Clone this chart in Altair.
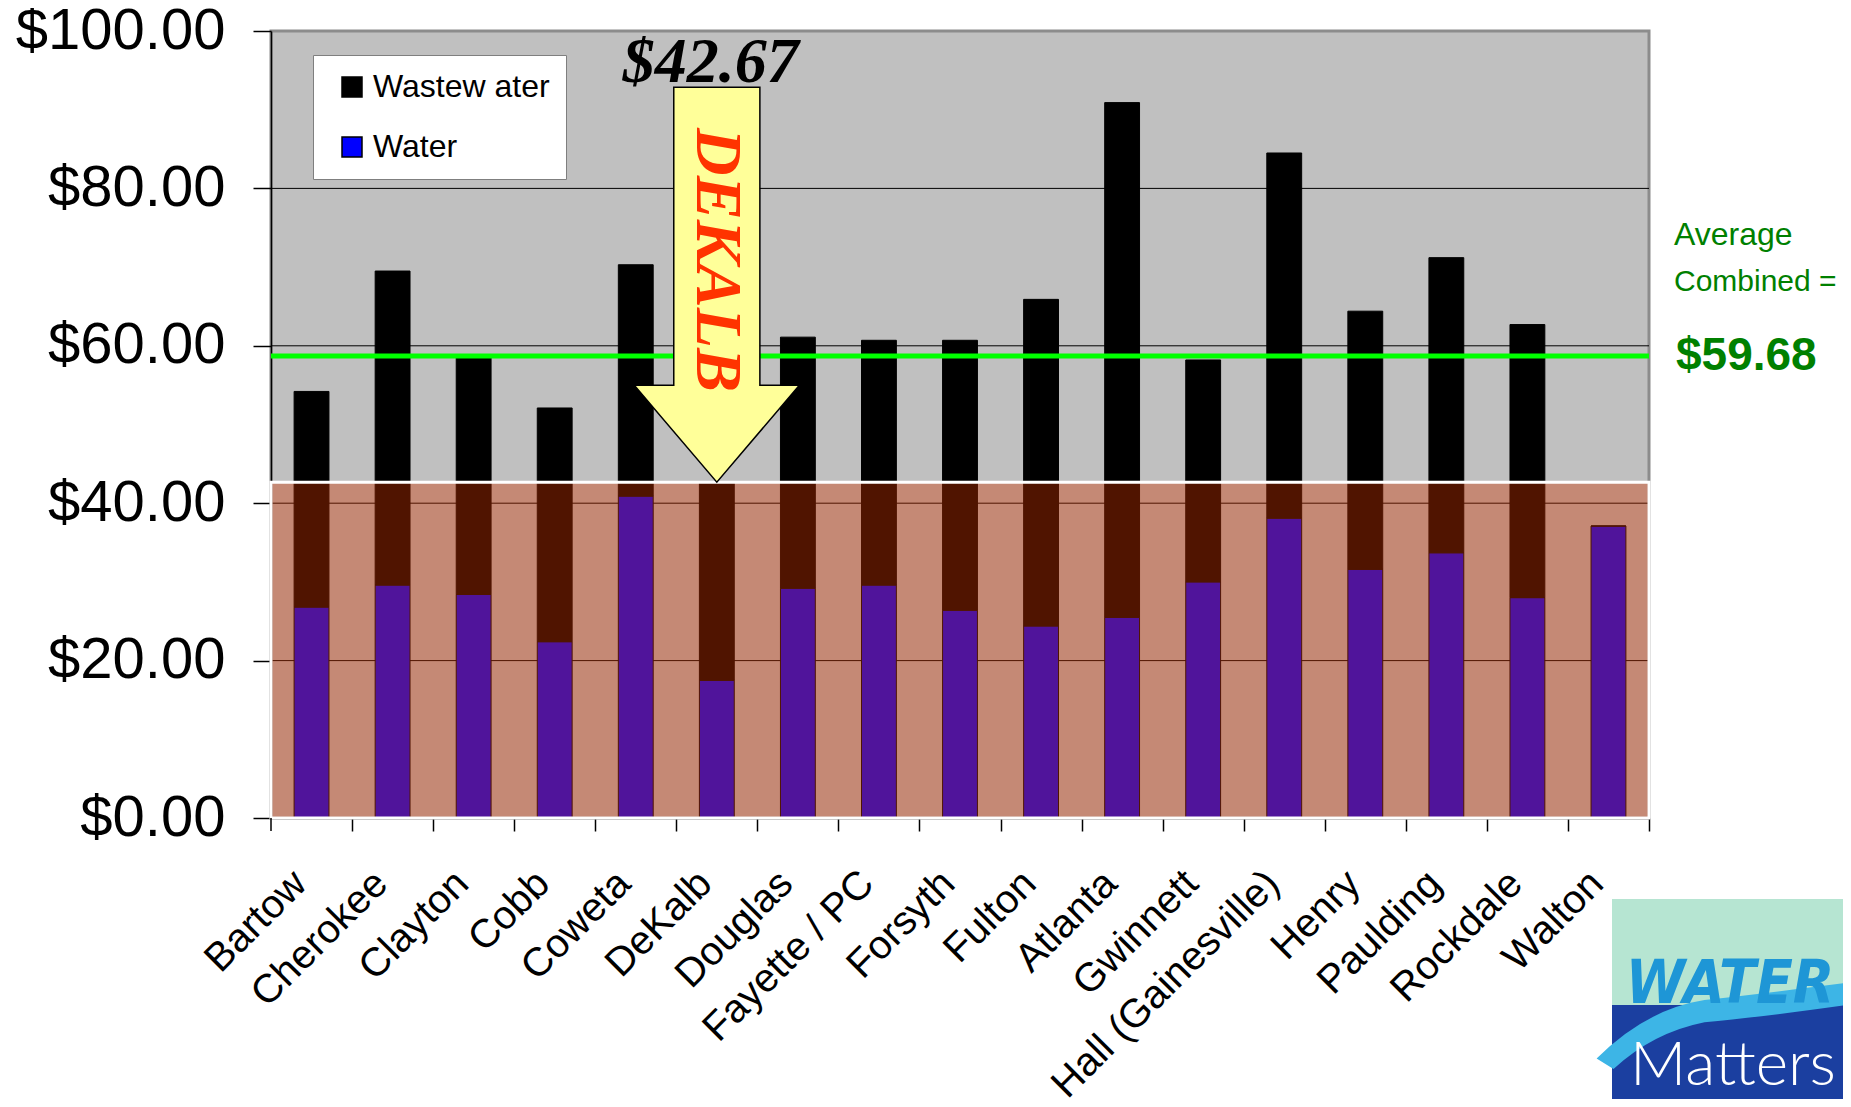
import altair as alt
import pandas as pd

# ---------------- data ----------------
counties = ["Bartow", "Cherokee", "Clayton", "Cobb", "Coweta", "DeKalb", "Douglas",
            "Fayette / PC", "Forsyth", "Fulton", "Atlanta", "Gwinnett",
            "Hall (Gainesville)", "Henry", "Paulding", "Rockdale", "Walton"]
water = [26.8, 29.6, 28.4, 22.4, 40.9, 17.5, 29.2, 29.6, 26.4, 24.4, 25.5, 30.0,
         38.1, 31.6, 33.7, 28.0, 37.1]
wastewater = [27.4, 39.9, 30.1, 29.7, 29.4, 25.17, 31.9, 31.1, 34.3, 41.5, 65.4, 28.2,
              46.4, 32.8, 37.5, 34.7, 0.0]
series = ["Wastew ater", "Water"]
series_colors = ["#000000", "#0000FF"]
y_ticks = [0, 20, 40, 60, 80, 100]
grid_values = [20, 40, 60, 80]
average_line = 58.7
average_text = ["Average", "Combined =", "$59.68"]
highlight = "DeKalb"
logo_words = ["WATER", "Matters"]

# ---------------- derived tables ----------------
rows = []
for c, w, ww in zip(counties, water, wastewater):
    rows.append({"county": c, "series": "Water", "value": w, "ord": 0})
    rows.append({"county": c, "series": "Wastew ater", "value": ww, "ord": 1})
df = pd.DataFrame(rows)
grid_df = pd.DataFrame({"g": grid_values})
one = pd.DataFrame({"k": [0]})

hi = counties.index(highlight)
hi_total = round(water[hi] + wastewater[hi], 2)
hi_label = f"${hi_total:.2f}"

W, H = 1378, 787
FONT = "Liberation Sans"

x_enc = alt.X(
    "county:N", sort=counties, title=None,
    scale=alt.Scale(paddingInner=0.57, paddingOuter=0.285),
    axis=alt.Axis(labelAngle=-45, labelAlign="right", labelBaseline="middle",
                  labelFontSize=40, labelFont=FONT, labelColor="black",
                  labelPadding=46, labelLimit=600, labelOverlap=False,
                  tickSize=13, tickColor="black", tickWidth=1.5,
                  bandPosition=1, tickOffset=23.1, labelOffset=-35,
                  domainColor="black", domainWidth=1.5, grid=False),
)
y_enc = alt.Y(
    "value:Q", stack="zero", title=None,
    scale=alt.Scale(domain=[0, 100], nice=False, zero=True),
    axis=alt.Axis(values=y_ticks, format="$.2f", labelFontSize=58, labelFont=FONT,
                  labelColor="black", labelPadding=28, labelLimit=400,
                  tickSize=18, tickColor="black", tickWidth=1.5,
                  domainColor="black", domainWidth=1.5, grid=False),
)

grid = alt.Chart(grid_df).mark_rule(color="black", strokeWidth=1).encode(
    y=alt.Y("g:Q"), x=alt.value(0), x2=alt.value(W)
)

left_tick = alt.Chart(one).mark_rule(color="black", strokeWidth=1.5).encode(
    x=alt.value(0), y=alt.value(H), y2=alt.value(H + 13)
)

bars = alt.Chart(df).mark_bar(stroke="black", strokeWidth=1).encode(
    x=x_enc,
    y=y_enc,
    order=alt.Order("ord:Q", sort="ascending"),
    color=alt.Color(
        "series:N", title=None,
        scale=alt.Scale(domain=series, range=series_colors),
        legend=alt.Legend(orient="none", legendX=42, legendY=24,
                          fillColor="white", strokeColor="#7F7F7F",
                          padding=16, symbolType="square", symbolSize=400,
                          symbolStrokeColor="black", symbolStrokeWidth=1.5,
                          symbolOffset=7, labelFontSize=32, labelFont=FONT,
                          labelColor="black", labelOffset=5, rowPadding=28,
                          labelLimit=400),
    ),
)

avg = alt.Chart(one).mark_rule(color="#00FF00", strokeWidth=5).encode(
    y=alt.datum(average_line), x=alt.value(0), x2=alt.value(W)
)

overlay = alt.Chart(one).mark_rect(
    fill="#CC3300", fillOpacity=0.393, stroke="white", strokeWidth=3, strokeOpacity=1
).encode(
    x=alt.value(0), x2=alt.value(W), y=alt.datum(0), y2=alt.datum(hi_total)
)

arrow_path = ("M -0.218 -2 L 0.218 -2 L 0.218 -0.491 L 0.418 -0.491 "
              "L 0 0 L -0.418 -0.491 L -0.218 -0.491 Z")
arrow = alt.Chart(one).mark_point(
    shape=arrow_path, size=395 * 395, filled=True, fill="#FFFF99",
    stroke="black", strokeWidth=1.5, opacity=1
).encode(x=alt.datum(highlight), y=alt.datum(hi_total))

dek_text = alt.Chart(one).mark_text(
    text=highlight.upper(), angle=90, align="center", baseline="middle",
    font="Liberation Serif", fontSize=66, fontWeight="bold", fontStyle="italic",
    color="#FF3300"
).encode(x=alt.datum(highlight), y=alt.value(229))

price_text = alt.Chart(one).mark_text(
    text=hi_label, align="center", baseline="alphabetic", dx=-6,
    font="Liberation Serif", fontSize=64, fontWeight="bold", fontStyle="italic",
    color="black"
).encode(x=alt.datum(highlight), y=alt.value(51))

avg_t1 = alt.Chart(one).mark_text(
    text=average_text[0], align="left", baseline="middle", font=FONT,
    fontSize=32, color="#008000"
).encode(x=alt.value(W + 25), y=alt.value(204))
avg_t2 = alt.Chart(one).mark_text(
    text=average_text[1], align="left", baseline="middle", font=FONT,
    fontSize=30, color="#008000"
).encode(x=alt.value(W + 25), y=alt.value(251))
avg_t3 = alt.Chart(one).mark_text(
    text=average_text[2], align="left", baseline="middle", font=FONT,
    fontSize=46, fontWeight="bold", color="#008000"
).encode(x=alt.value(W + 27), y=alt.datum(average_line))

# ---------------- logo ----------------
logo_top = alt.Chart(one).mark_rect(fill="#B6E5D2").encode(
    x=alt.value(1341), x2=alt.value(1590), y=alt.value(868), y2=alt.value(974)
)
logo_bot = alt.Chart(one).mark_rect(fill="#1B3FA0").encode(
    x=alt.value(1341), x2=alt.value(1590), y=alt.value(974), y2=alt.value(1090)
)
swoosh_path = ("M -0.98 0.22 Q -0.6 -0.16 -0.15 -0.23 Q 0.3 -0.28 1 -0.37 "
               "L 1 -0.2 Q 0.3 -0.1 -0.15 -0.06 Q -0.55 0.02 -0.85 0.3 Z")
swoosh = alt.Chart(one).mark_point(
    shape=swoosh_path, size=260 * 260, filled=True, fill="#3DB5E6",
    strokeWidth=0, opacity=1
).encode(x=alt.value(1453), y=alt.value(999))
water_text = alt.Chart(one).mark_text(
    text=logo_words[0], align="center", baseline="alphabetic",
    font="'Liberation Sans Narrow', 'DejaVu Sans Condensed', 'Liberation Sans'",
    fontSize=60, fontWeight="bold", fontStyle="italic", color="#1E96D6"
).encode(x=alt.value(1459), y=alt.value(972))
matters_text = alt.Chart(one).mark_text(
    text=logo_words[1], align="center", baseline="alphabetic",
    font="Lato", fontSize=62, fontWeight=300, color="white"
).encode(x=alt.value(1462), y=alt.value(1054))

chart = alt.layer(
    grid, bars, avg, overlay, left_tick, arrow, dek_text, price_text,
    avg_t1, avg_t2, avg_t3, logo_top, logo_bot, swoosh, water_text, matters_text
).properties(
    width=W, height=H,
    padding={"left": 263, "top": 23, "right": 194, "bottom": 281},
    autosize=alt.AutoSizeParams(type="none"),
).configure(font=FONT).configure_view(
    fill="#C0C0C0", stroke="#8C8C8C", strokeWidth=3
)

chart.save("out.html", embed_options={"renderer": "svg", "actions": False})
